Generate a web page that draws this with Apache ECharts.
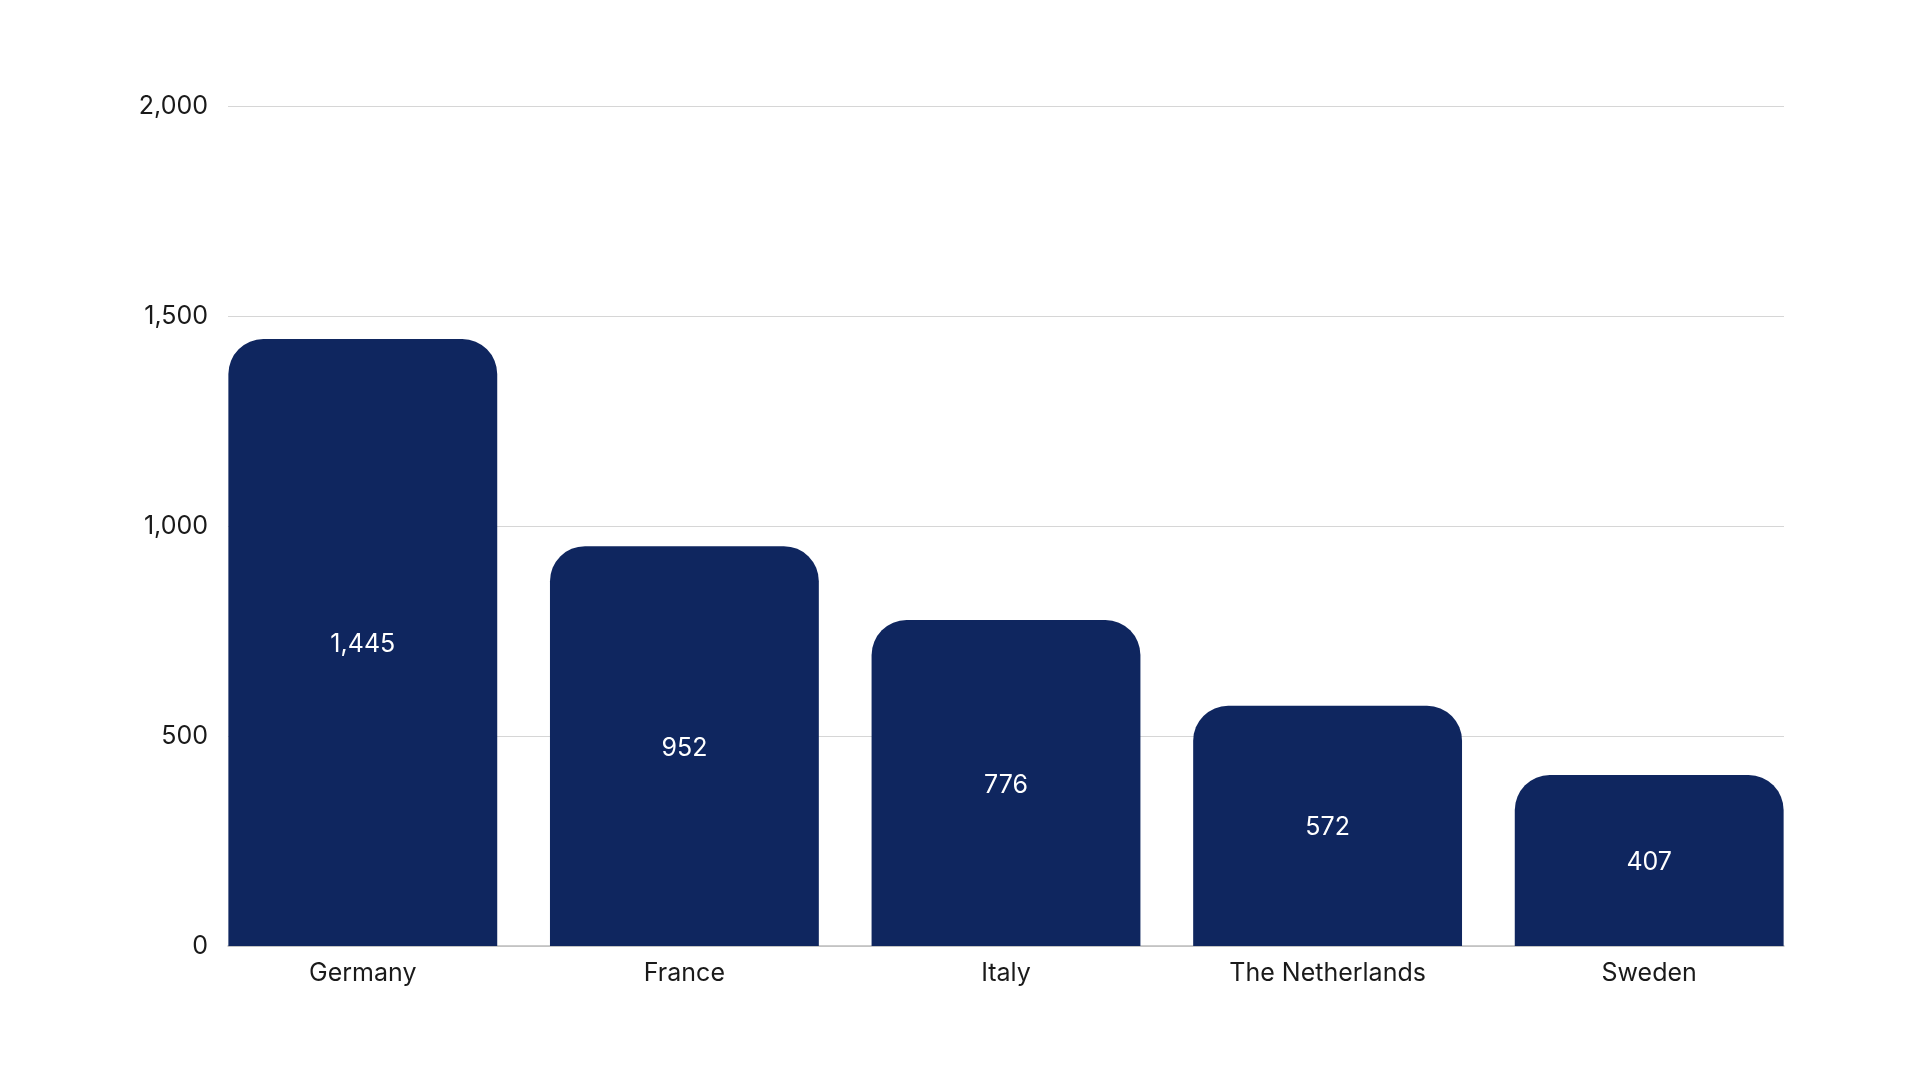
<!DOCTYPE html>
<html>
<head>
<meta charset="utf-8">
<script src="https://cdn.jsdelivr.net/npm/echarts@6/dist/echarts.min.js"></script>
<style>
html,body{margin:0;padding:0;background:#fff;}
#chart{width:1920px;height:1080px;}
</style>
</head>
<body>
<div id="chart"></div>
<script>
const categories = ['Germany', 'France', 'Italy', 'The Netherlands', 'Sweden'];
const values = [1445, 952, 776, 572, 407];
const yTicks = { min: 0, max: 2000, interval: 500 };

const chart = echarts.init(document.getElementById('chart'), null, { renderer: 'canvas' });
const font = 'Inter, "Noto Sans", sans-serif';
const option = {
  backgroundColor: '#ffffff',
  animation: false,
  grid: [
    { left: 202, right: 110, top: 106, bottom: 134 },
    { left: 228, right: 136, top: 106, bottom: 134 }
  ],
  xAxis: [
    {
      type: 'category', gridIndex: 0, data: categories,
      axisLine: { show: false }, axisTick: { show: false },
      axisLabel: { color: '#1a1a1a', fontSize: 25, fontFamily: font, margin: 15 }
    },
    {
      type: 'category', gridIndex: 1, data: categories,
      axisLine: { show: true, lineStyle: { color: '#bdbdbd', width: 1.5 } },
      axisTick: { show: false }, axisLabel: { show: false }
    }
  ],
  yAxis: [
    {
      type: 'value', gridIndex: 0, min: yTicks.min, max: yTicks.max, interval: yTicks.interval,
      show: false, splitLine: { show: false }
    },
    {
      type: 'value', gridIndex: 1, min: yTicks.min, max: yTicks.max, interval: yTicks.interval,
      axisLine: { show: false }, axisTick: { show: false },
      axisLabel: {
        color: '#1a1a1a', fontSize: 25, fontFamily: font, margin: 20,
        formatter: v => v.toLocaleString('en-US')
      },
      splitLine: { show: true, lineStyle: { color: '#d6d6d6', width: 1 } }
    }
  ],
  series: [
    {
      type: 'bar', xAxisIndex: 0, yAxisIndex: 0, data: values, z: 3,
      barCategoryGap: '16.4%',
      itemStyle: { color: '#0f265f', borderRadius: [35, 35, 0, 0] },
      label: {
        show: true, position: 'inside', offset: [0, 2], color: '#ffffff', fontSize: 25, fontFamily: font,
        formatter: p => p.value.toLocaleString('en-US')
      }
    }
  ]
};
chart.setOption(option);
</script>
</body>
</html>
